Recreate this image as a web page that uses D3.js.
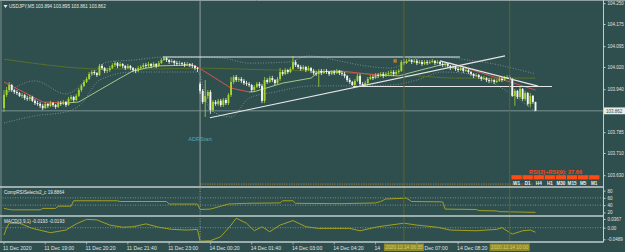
<!DOCTYPE html>
<html lang="en">
<head>
<meta charset="utf-8">
<title>USDJPY,M5</title>
<script src="https://cdn.jsdelivr.net/npm/d3@7"></script>
<style>
body { margin: 0; background: #2f4f4f; }
svg { display: block; }
text { font-family: "Liberation Sans", Arial, sans-serif; }
</style>
</head>
<body>
<div id="chart"></div>
<script>
// ---- data ----
var closes = [
103.919,103.937,103.955,103.937,103.930,103.926,103.916,103.919,103.908,103.905,
103.912,103.898,103.890,103.887,103.880,103.872,103.887,103.880,103.890,103.883,
103.876,103.890,103.887,103.894,103.883,103.905,103.912,103.901,103.916,103.937,
103.952,103.966,103.977,103.995,104.002,103.998,103.991,104.024,104.016,104.006,
104.009,104.016,104.027,104.034,104.024,104.031,104.024,104.016,104.024,104.016,
104.009,104.006,104.016,104.020,104.027,104.024,104.031,104.024,104.031,104.024,
104.034,104.045,104.052,104.045,104.038,104.042,104.034,104.031,104.034,104.031,
104.027,104.031,104.027,104.024,104.016,104.013,103.934,103.894,103.916,103.930,
103.865,103.894,103.887,103.898,103.883,103.901,103.890,103.919,103.966,103.984,
103.973,103.977,103.970,103.962,103.959,103.955,103.937,103.948,103.959,103.952,
103.898,103.973,103.966,103.980,103.973,103.962,103.977,104.002,103.995,104.009,
104.002,104.013,104.038,104.027,104.020,104.013,104.020,104.009,104.016,104.006,
103.998,103.995,104.006,103.998,104.006,104.002,103.995,104.002,103.998,104.006,
103.998,103.995,103.988,103.973,103.966,103.955,103.970,103.988,103.959,103.955,
103.962,103.977,103.984,103.980,103.991,103.988,103.995,103.988,103.995,103.998,
104.002,103.995,104.002,104.006,104.038,104.034,104.042,104.045,104.038,104.042,
104.034,104.038,104.031,104.038,104.034,104.038,104.042,104.034,104.038,104.031,
104.027,104.031,104.024,104.016,104.020,104.013,104.009,104.016,104.006,104.009,
104.002,103.995,103.988,103.991,103.984,103.977,103.980,103.973,103.970,103.973,
103.966,103.970,103.977,103.973,103.980,103.984,103.977,103.916,103.934,103.912,
103.941,103.905,103.926,103.887,103.916,103.894,103.862];

var highs = [
103.937,103.948,103.966,103.959,103.941,103.937,103.930,103.926,103.923,103.916,
103.919,103.916,103.905,103.898,103.894,103.887,103.894,103.890,103.898,103.894,
103.887,103.898,103.898,103.901,103.898,103.912,103.919,103.916,103.923,103.944,
103.959,103.973,103.984,104.002,104.009,104.009,104.002,104.031,104.031,104.020,
104.016,104.024,104.034,104.042,104.038,104.038,104.034,104.027,104.031,104.027,
104.020,104.016,104.024,104.027,104.034,104.034,104.038,104.034,104.038,104.034,
104.042,104.052,104.058,104.056,104.049,104.049,104.045,104.042,104.042,104.038,
104.038,104.038,104.034,104.034,104.027,104.020,103.966,103.941,103.973,103.937,
103.937,103.901,103.901,103.905,103.905,103.908,103.908,103.926,103.984,103.991,
103.991,103.984,103.984,103.977,103.970,103.966,103.959,103.955,103.966,103.966,
103.959,103.984,103.980,103.988,103.988,103.977,103.984,104.016,104.009,104.016,
104.013,104.020,104.060,104.045,104.031,104.027,104.027,104.024,104.024,104.020,
104.013,104.006,104.013,104.013,104.013,104.013,104.006,104.009,104.009,104.013,
104.009,104.006,104.002,103.991,103.980,103.970,103.977,103.995,103.995,103.966,
103.970,103.984,103.991,103.991,103.998,103.998,104.002,104.002,104.002,104.006,
104.009,104.009,104.009,104.013,104.045,104.049,104.049,104.052,104.049,104.049,
104.049,104.045,104.045,104.045,104.045,104.045,104.049,104.045,104.045,104.042,
104.038,104.038,104.034,104.027,104.027,104.024,104.020,104.024,104.020,104.016,
104.013,104.006,103.998,103.998,103.995,103.988,103.988,103.984,103.980,103.980,
103.977,103.977,103.984,103.984,103.988,103.991,103.991,103.980,103.941,103.937,
103.948,103.944,103.934,103.930,103.926,103.919,103.895];

var lows = [
103.858,103.912,103.930,103.930,103.923,103.919,103.912,103.908,103.901,103.898,
103.898,103.894,103.883,103.880,103.872,103.865,103.869,103.872,103.876,103.876,
103.869,103.872,103.880,103.883,103.876,103.880,103.898,103.894,103.898,103.912,
103.930,103.948,103.962,103.973,103.988,103.991,103.984,103.988,104.009,103.998,
103.998,104.002,104.013,104.020,104.016,104.020,104.016,104.009,104.013,104.009,
104.002,103.998,104.002,104.009,104.016,104.016,104.020,104.016,104.020,104.016,
104.020,104.031,104.042,104.038,104.031,104.034,104.027,104.024,104.027,104.024,
104.020,104.024,104.020,104.016,104.009,104.002,103.923,103.887,103.840,103.905,
103.851,103.858,103.880,103.880,103.876,103.876,103.883,103.883,103.912,103.959,
103.966,103.966,103.962,103.955,103.952,103.948,103.930,103.930,103.944,103.944,
103.890,103.890,103.959,103.962,103.966,103.955,103.959,103.970,103.988,103.991,
103.995,103.998,104.009,104.020,104.013,104.006,104.009,104.002,104.006,103.998,
103.991,103.988,103.948,103.991,103.995,103.995,103.988,103.991,103.991,103.995,
103.991,103.988,103.980,103.966,103.959,103.952,103.952,103.966,103.952,103.948,
103.952,103.959,103.973,103.973,103.977,103.980,103.984,103.980,103.984,103.988,
103.991,103.988,103.991,103.995,104.002,104.027,104.031,104.038,104.031,104.034,
104.027,104.031,104.024,104.027,104.027,104.031,104.034,104.027,104.031,104.024,
104.020,104.020,104.016,104.009,104.013,104.006,104.002,104.006,103.998,104.002,
103.995,103.988,103.980,103.984,103.977,103.970,103.973,103.966,103.962,103.966,
103.959,103.962,103.966,103.966,103.970,103.977,103.970,103.912,103.880,103.905,
103.905,103.898,103.898,103.880,103.876,103.887,103.861];

// opens follow the previous close except at session starts
var sessionOpens = { 0: 103.872, 76: 103.959 };

// slope coloured moving average [bar, price]
var maPts = [[0,103.966],[15,103.894],[24,103.890],[29,103.894],[37,103.937],[45,103.980],
  [50,104.006],[55,104.016],[60,104.024],[73,104.027],[75,104.020],[88,103.944],[95,103.930],
  [97,103.931],[108,103.962],[119,103.980],[122,104.003],[131,104.005],[146,103.990],
  [153,103.988],[157,103.998],[169,104.027],[173,104.034],[206,103.937]];
// long moving average
var slowPts = [[0,104.048],[11,104.034],[24,104.020],[37,104.013],[60,104.013],[76,104.016],
  [90,104.013],[105,104.009],[120,104.006],[140,103.995],[160,103.988],[175,103.980],[206,103.980]];
// dotted bands
var upperPts = [[0,103.919],[12,103.970],[24,103.923],[32,103.973],[40,104.038],[50,104.045],
  [62,104.056],[75,104.056],[85,104.052],[95,104.034],[110,104.038],[118,104.060],[132,104.038],
  [140,104.024],[150,104.016],[160,104.052],[170,104.056],[180,104.045],[190,104.031],
  [200,104.009],[206,103.995]];
var lowerPts = [[0,103.818],[12,103.844],[24,103.858],[30,103.887],[37,103.973],[50,104.002],
  [75,104.002],[80,103.865],[88,103.840],[95,103.908],[105,103.930],[120,103.952],[135,103.952],
  [150,103.955],[160,103.973],[170,104.002],[180,103.995],[190,103.959],[200,103.901],[206,103.858]];

// drawn objects [bar, price]
var trendLines = [
  [[61.6,104.056],[176.7,104.056]],
  [[135.3,103.950],[212.4,103.950]],
  [[79.8,103.837],[194.2,104.060]],
  [[169,104.042],[207,103.951]]
];
var bidPrice = 103.862;
var adrLevel = [[76,103.598],[205,103.598]];
var marker = [151.6,104.042];

// sub windows [bar, value]
var rsiPts = [[0,31],[3,27],[14,27],[15,31],[20,31],[21,37],[26,37],[27,52],[44,52],[45,50],
  [63,50],[64,43],[75,43],[76,28],[80,29],[84,37],[87,43],[94,45],[107,46],[108,52],[112,52],
  [113,45],[131,44],[144,46],[146,50],[148,57],[156,59],[158,50],[170,49],[171,29],[183,28],
  [184,25],[191,24],[192,22],[200,21],[206,20]];
var macdPts = [[0,-0.031],[1,-0.001],[2,0.019],[6,0.019],[11,-0.003],[18,-0.021],[24,-0.010],
  [28,0.016],[32,0.035],[36,0.033],[41,0.011],[46,0.002],[50,0.004],[55,0.016],[60,0.002],
  [65,-0.007],[71,-0.010],[75,-0.007],[76,-0.057],[80,-0.055],[84,-0.038],[88,0.011],
  [90,0.040],[94,0.019],[97,-0.013],[100,0.004],[103,-0.017],[107,0.011],[112,0.030],
  [117,0.004],[122,-0.003],[134,-0.003],[138,-0.013],[145,0.004],[155,0.019],[160,0.011],
  [168,0.002],[173,-0.010],[183,-0.013],[191,-0.007],[193,0.000],[197,-0.027],[201,-0.013],
  [204,-0.010],[206,-0.019]];

var priceTicks = [104.250,104.175,104.095,104.020,103.940,103.785,103.710,103.630];
var rsiTicks = [80,60,40,20];
var rsiLevels = [60,40];
var macdTicks = [0.0367,0,-0.0489];
var macdLabels = ["0.0367","0.00","-0.0489"];
var timeBars = [0,16,32,48,64,80,96,112,128,144,160,176];
var timeLabels = ["11 Dec 2020","11 Dec 19:00","11 Dec 20:20","11 Dec 21:40","11 Dec 23:00",
  "14 Dec 00:20","14 Dec 01:40","14 Dec 03:00","14 Dec 04:20","14 Dec 05:40","14 Dec 07:00",
  "14 Dec 08:20"];
var vLineBars = [155,196];
var vLineLabels = ["2020.12.14 06:35","2020.12.14 10:00"];
var daySepBar = 76;
var tfNames = ["W1","D1","H4","H1","M30","M15","M5","M1"];

// ---- drawing ----
var W = 625, H = 252;
var svg = d3.select("#chart").append("svg").attr("width", W).attr("height", H);
svg.append("rect").attr("width", W).attr("height", H).attr("fill", "#2f4f4f");

var x = d3.scaleLinear().domain([0, 206]).range([4, 535.5]);
var y = d3.scaleLinear().domain([103.630, 104.250]).range([175.2, 3.2]);
var yRsi = d3.scaleLinear().domain([12.8, 87.2]).range([215, 188]);
var yMacd = d3.scaleLinear().domain([-0.0582, 0.0451]).range([241.5, 217]);

var defs = svg.append("defs");
function clip(id, y0, y1) {
  defs.append("clipPath").attr("id", id).append("rect")
    .attr("x", 1).attr("y", y0).attr("width", 602).attr("height", y1 - y0);
}
clip("cMain", 1, 186);
clip("cRsi", 188, 215);
clip("cMacd", 217, 241);

var main = svg.append("g").attr("clip-path", "url(#cMain)");
var gRsi = svg.append("g").attr("clip-path", "url(#cRsi)");
var gMacd = svg.append("g").attr("clip-path", "url(#cMacd)");

var line = d3.line().x(function(d){ return x(d[0]); }).y(function(d){ return y(d[1]); });

// day separator + vertical lines
main.append("line").attr("x1", x(daySepBar)).attr("x2", x(daySepBar)).attr("y1", 0).attr("y2", 186)
  .attr("stroke", "#aab4b4").attr("stroke-width", 0.8);
[gRsi, gMacd].forEach(function(g){
  g.append("line").attr("x1", x(daySepBar)).attr("x2", x(daySepBar)).attr("y1", 186).attr("y2", 242)
    .attr("stroke", "#aab4b4").attr("stroke-width", 0.8).attr("stroke-dasharray", "1,1.5");
});
vLineBars.forEach(function(b){
  svg.append("line").attr("x1", x(b)).attr("x2", x(b)).attr("y1", 1).attr("y2", 242)
    .attr("stroke", "#5b6629").attr("stroke-width", 1);
});

// bid line
main.append("line").attr("x1", 0).attr("x2", 603).attr("y1", y(bidPrice)).attr("y2", y(bidPrice))
  .attr("stroke", "#8fa3a3").attr("stroke-width", 0.8);

// ADR level
main.append("path").attr("d", line(adrLevel)).attr("fill", "none")
  .attr("stroke", "#c8892a").attr("stroke-width", 0.9).attr("stroke-dasharray", "1.2,1.2");

// bands
var curveLine = d3.line().curve(d3.curveMonotoneX)
  .x(function(d){ return x(d[0]); }).y(function(d){ return y(d[1]); });
[upperPts, lowerPts].forEach(function(p){
  main.append("path").attr("d", curveLine(p)).attr("fill", "none")
    .attr("stroke", "#9aa8a8").attr("stroke-width", 0.8).attr("stroke-dasharray", "0.8,1.8");
});

// slow MA
main.append("path").attr("d", curveLine(slowPts)).attr("fill", "none")
  .attr("stroke", "#566f28").attr("stroke-width", 1);

// slope coloured MA
for (var k = 1; k < maPts.length; k++) {
  var a = maPts[k-1], b = maPts[k];
  var s = (b[1] - a[1]) / (b[0] - a[0]);
  var col = s > 0.0003 ? "#a6c98a" : (s < -0.0003 ? "#d9534f" : "#c9c24a");
  main.append("path").attr("d", line([a, b])).attr("fill", "none")
    .attr("stroke", col).attr("stroke-width", 1);
}

// candles
var bars = closes.map(function(c, i){
  var o = (i in sessionOpens) ? sessionOpens[i] : closes[i-1];
  return { i: i, o: o, h: highs[i], l: lows[i], c: c };
});
var cg = main.selectAll("g.bar").data(bars).enter().append("g");
cg.append("line")
  .attr("x1", function(d){ return x(d.i); }).attr("x2", function(d){ return x(d.i); })
  .attr("y1", function(d){ return y(d.h); }).attr("y2", function(d){ return y(d.l); })
  .attr("stroke", function(d){ return d.c >= d.o ? "#a3d52e" : "#f4f4f4"; })
  .attr("stroke-width", 0.8);
cg.append("rect")
  .attr("x", function(d){ return x(d.i) - 0.95; }).attr("width", 1.9)
  .attr("y", function(d){ return y(Math.max(d.o, d.c)); })
  .attr("height", function(d){ return Math.max(0.8, Math.abs(y(d.o) - y(d.c))); })
  .attr("fill", function(d){ return d.c >= d.o ? "#a3d52e" : "#f4f4f4"; });

// trend lines
trendLines.forEach(function(t){
  main.append("path").attr("d", line(t)).attr("fill", "none")
    .attr("stroke", "#e6e6e6").attr("stroke-width", 1.1);
});

// marker
main.append("rect").attr("x", x(marker[0]) - 1.6).attr("y", y(marker[1]) - 1.6)
  .attr("width", 3.2).attr("height", 3.2).attr("fill", "#d98c1e");
main.append("rect").attr("x", x(marker[0]) - 0.6).attr("y", y(marker[1]) - 0.6)
  .attr("width", 1.2).attr("height", 1.2).attr("fill", "#7a5a20");

// ADRStart label
main.append("text").attr("x", x(daySepBar)).attr("y", y(103.752)).attr("text-anchor", "middle")
  .attr("font-size", 5.6).attr("fill", "#5fa3a6").text("ADRStart");

// header
svg.append("path").attr("d", "M3.5,5 L7.5,5 L5.5,8 Z").attr("fill", "#e8e8e8");
svg.append("text").attr("x", 9).attr("y", 8.2).attr("font-size", 4.6).attr("fill", "#e8e8e8")
  .text("USDJPY,M5  103.894 103.895 103.861 103.862");

// RSI widget
var cellW = 11.1, cellX0 = 511;
svg.append("text").attr("x", 555.5).attr("y", 173.5).attr("text-anchor", "middle")
  .attr("font-size", 5.6).attr("font-weight", "bold").attr("fill", "#ff4a14")
  .text("RSI(2)+RSI(9):  27.66");
tfNames.forEach(function(n, j){
  svg.append("rect").attr("x", cellX0 + j * cellW + 0.4).attr("y", 175.2)
    .attr("width", cellW - 0.8).attr("height", 4.2).attr("fill", "#ff4a14");
  svg.append("text").attr("x", cellX0 + j * cellW + cellW / 2).attr("y", 185)
    .attr("text-anchor", "middle").attr("font-size", 4.6).attr("font-weight", "bold")
    .attr("fill", "#f0f0f0").text(n);
});

// sub window: CompRSISelect
rsiLevels.forEach(function(v){
  gRsi.append("line").attr("x1", 0).attr("x2", 603).attr("y1", yRsi(v)).attr("y2", yRsi(v))
    .attr("stroke", "#9aa8a8").attr("stroke-width", 0.7).attr("stroke-dasharray", "1,1.5");
});
gRsi.append("path").attr("d", d3.line().x(function(d){ return x(d[0]); })
  .y(function(d){ return yRsi(d[1]); })(rsiPts))
  .attr("fill", "none").attr("stroke", "#a2a022").attr("stroke-width", 1);
svg.append("text").attr("x", 4).attr("y", 194).attr("font-size", 4.6).attr("fill", "#e8e8e8")
  .text("CompRSISelectv2_c 19.8864");

// sub window: MACD
gMacd.append("line").attr("x1", 0).attr("x2", 603).attr("y1", yMacd(0)).attr("y2", yMacd(0))
  .attr("stroke", "#9aa8a8").attr("stroke-width", 0.7).attr("stroke-dasharray", "1,1.5");
gMacd.append("path").attr("d", d3.line().x(function(d){ return x(d[0]); })
  .y(function(d){ return yMacd(d[1]); })(macdPts))
  .attr("fill", "none").attr("stroke", "#a2a022").attr("stroke-width", 1);
svg.append("text").attr("x", 4).attr("y", 223).attr("font-size", 4.6).attr("fill", "#e8e8e8")
  .text("MACD(3,9,1) -0.0193 -0.0193");

// panel frames
var frameCol = "#c3cccc";
svg.append("line").attr("x1", 0).attr("x2", 625).attr("y1", 0.5).attr("y2", 0.5).attr("stroke", "#8fa0a0");
svg.append("line").attr("x1", 1).attr("x2", 1).attr("y1", 0).attr("y2", 242).attr("stroke", "#8fa0a0").attr("stroke-width", 0.8);
[187, 216, 242].forEach(function(yy){
  svg.append("line").attr("x1", 0).attr("x2", 603.5).attr("y1", yy).attr("y2", yy)
    .attr("stroke", frameCol).attr("stroke-width", 1.6);
});

// right axes
function styleAxis(g) {
  g.selectAll(".domain").attr("stroke", "#c3cccc");
  g.selectAll(".tick line").attr("stroke", "#c3cccc");
  g.selectAll(".tick text").attr("fill", "#e0e0e0").attr("font-size", 4.5)
    .attr("font-family", "Liberation Sans, Arial, sans-serif");
}
var ax = svg.append("g").attr("transform", "translate(603.5,0)")
  .call(d3.axisRight(y).tickValues(priceTicks).tickSize(2).tickPadding(2).tickFormat(d3.format(".3f")));
ax.select(".domain").attr("d", "M0,0V187");
styleAxis(ax);
var axR = svg.append("g").attr("transform", "translate(603.5,0)")
  .call(d3.axisRight(yRsi).tickValues(rsiTicks).tickSize(2).tickPadding(2));
axR.select(".domain").attr("d", "M0,187V216");
styleAxis(axR);
var axM = svg.append("g").attr("transform", "translate(603.5,0)")
  .call(d3.axisRight(yMacd).tickValues(macdTicks).tickSize(2).tickPadding(2)
    .tickFormat(function(d, i){ return macdLabels[i]; }));
axM.select(".domain").attr("d", "M0,216V242");
styleAxis(axM);

// current price box
svg.append("rect").attr("x", 604).attr("y", y(bidPrice) - 3.4).attr("width", 21).attr("height", 6.8)
  .attr("fill", "#e8ecec");
svg.append("text").attr("x", 606).attr("y", y(bidPrice) + 1.7).attr("font-size", 4.5)
  .attr("fill", "#2f4f4f").text(d3.format(".3f")(bidPrice));

// time axis: where a line-time box covers a label only its visible words are kept
var boxes = vLineBars.map(function(b){ return [x(b) - 20, x(b) + 20]; });
var gTime = svg.append("g");
timeBars.forEach(function(b, i){
  gTime.append("line").attr("x1", x(b)).attr("x2", x(b)).attr("y1", 242).attr("y2", 244.5)
    .attr("stroke", "#c3cccc").attr("stroke-width", 0.7);
  var x0 = x(b) - 1;
  var t = gTime.append("text").attr("x", x0).attr("y", 249.5).attr("font-size", 5.1)
    .attr("fill", "#e0e0e0").text(timeLabels[i]);
  boxes.forEach(function(bx){
    var words = t.text().split(" ");
    var left = +t.attr("x");
    var right = left + t.node().getComputedTextLength();
    if (right <= bx[0] || left >= bx[1]) return;
    if (left < bx[0]) {
      while (words.length > 1 && left + t.node().getComputedTextLength() > bx[0] - 1) {
        words.pop(); t.text(words.join(" "));
      }
      if (left + t.node().getComputedTextLength() > bx[0] - 1) t.remove();
    } else {
      var full = t.node().getComputedTextLength();
      while (words.length > 1) {
        words.shift(); t.text(words.join(" "));
        var shift = full - t.node().getComputedTextLength();
        if (left + shift >= bx[1] - 1.5) { t.attr("x", Math.max(left + shift, bx[1] + 0.6)); return; }
      }
      t.remove();
    }
  });
});
vLineBars.forEach(function(b, i){
  svg.append("rect").attr("x", x(b) - 20).attr("y", 243.5).attr("width", 40).attr("height", 7.5)
    .attr("fill", "#8f8a2a");
  svg.append("text").attr("x", x(b)).attr("y", 249.3).attr("text-anchor", "middle")
    .attr("font-size", 4.8).attr("fill", "#d8d070").text(vLineLabels[i]);
});
</script>
</body>
</html>
